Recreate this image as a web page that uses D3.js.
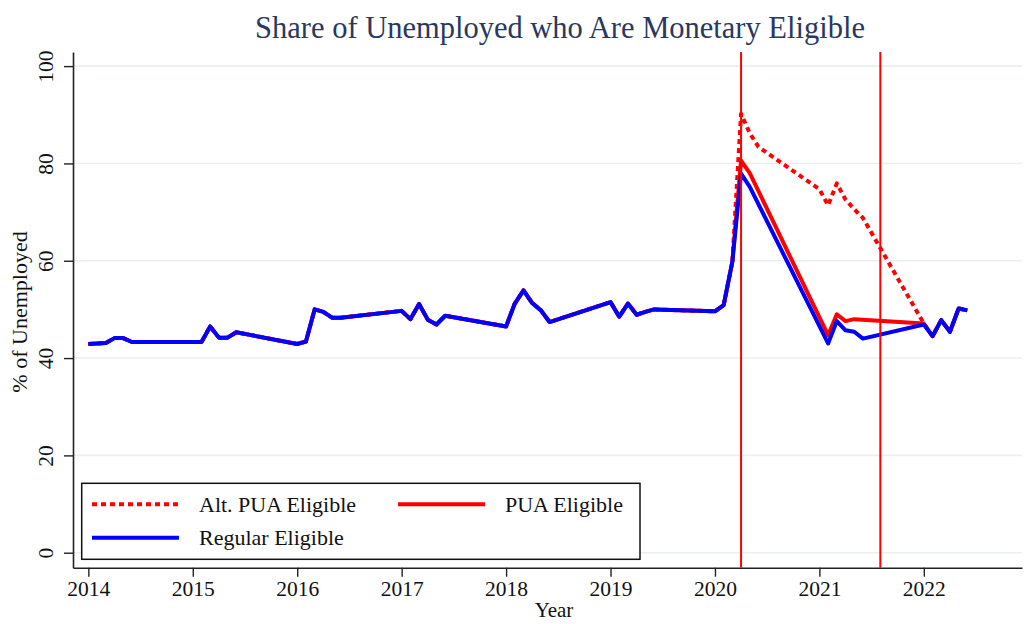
<!DOCTYPE html>
<html>
<head>
<meta charset="utf-8">
<script src="https://cdn.jsdelivr.net/npm/d3@7"></script>
<style>
  html, body { margin: 0; padding: 0; background: #fff; }
  svg { display: block; }
  text { font-family: "Liberation Serif", "DejaVu Serif", serif; fill: #111; }
</style>
</head>
<body>
<svg id="chart" width="1024" height="624"></svg>
<script>
// Monthly observations (YYYY-MM); null = no value for that series
const months = [
  "2014-01","2014-02","2014-03","2014-04","2014-05","2014-06",
  "2015-02","2015-03","2015-04","2015-05","2015-06",
  "2016-01","2016-02","2016-03","2016-04","2016-05","2016-06",
  "2017-01","2017-02","2017-03","2017-04","2017-05","2017-06",
  "2018-01","2018-02","2018-03","2018-04","2018-05","2018-06",
  "2019-01","2019-02","2019-03","2019-04","2019-05","2019-06",
  "2020-01","2020-02","2020-03","2020-04","2020-05","2020-06",
  "2021-01","2021-02","2021-03","2021-04","2021-05","2021-06",
  "2022-01","2022-02","2022-03","2022-04","2022-05","2022-06"
];

const regularEligible = [
  42.9,43.0,43.1,44.1,44.1,43.3,
  43.3,46.5,44.2,44.2,45.3,
  42.9,43.4,50.0,49.5,48.3,48.3,
  49.7,48.0,51.1,47.9,46.9,48.7,
  46.5,51.2,53.9,51.3,49.8,47.4,
  51.5,48.5,51.2,48.9,49.5,50.0,
  49.6,50.9,59.8,77.9,75.2,null,
  null,43.0,47.6,45.7,45.4,44.0,
  46.9,44.5,47.8,45.4,50.2,49.8
];

const puaEligible = [
  42.9,43.0,43.1,44.1,44.1,43.3,
  43.3,46.5,44.2,44.2,45.3,
  42.9,43.4,50.0,49.5,48.3,48.3,
  49.7,48.0,51.1,47.9,46.9,48.7,
  46.5,51.2,53.9,51.3,49.8,47.4,
  51.5,48.5,51.2,48.9,49.5,50.0,
  49.6,50.9,59.8,80.6,78.0,null,
  null,44.7,49.0,47.6,48.0,null,
  47.1,44.5,47.8,45.4,50.2,49.8
];

const altPuaEligible = [
  42.9,43.0,43.1,44.1,44.1,43.3,
  43.3,46.5,44.2,44.2,45.3,
  42.9,43.4,50.0,49.5,48.3,48.3,
  49.7,48.0,51.1,47.9,46.9,48.7,
  46.5,51.2,53.9,51.3,49.8,47.4,
  51.5,48.5,51.2,48.9,49.5,50.0,
  49.6,50.9,59.8,90.2,86.2,83.4,
  74.7,71.4,75.9,72.6,70.6,68.8,
  47.1,44.5,47.8,45.4,50.2,49.8
];

const xTicks = [2014, 2015, 2016, 2017, 2018, 2019, 2020, 2021, 2022];
const yTicks = [0, 20, 40, 60, 80, 100];
// Policy markers: April 2020 and August 2021
const eventMonths = ["2020-04", "2021-08"];

const toYear = m => { const [yr, mo] = m.split("-").map(Number); return yr + (mo - 1) / 12; };

const svg = d3.select("#chart");
const plotLeft = 73, plotRight = 1022, plotTop = 52, plotBottom = 567.7;
const labelSize = 21.5;

const x = d3.scaleLinear().domain([2013.853, 2022.94]).range([plotLeft, plotRight]);
const y = d3.scaleLinear().domain([-3.08, 102.9]).range([plotBottom, plotTop]);

// Horizontal grid
svg.append("g").selectAll("line").data(yTicks).join("line")
  .attr("x1", plotLeft).attr("x2", plotRight)
  .attr("y1", d => y(d)).attr("y2", d => y(d))
  .attr("stroke", "#e8f0f2").attr("stroke-width", 1.6);

// Axes
const xAxis = svg.append("g").attr("transform", `translate(0,${plotBottom})`)
  .call(d3.axisBottom(x).tickValues(xTicks).tickFormat(d3.format("d")).tickSize(9).tickPadding(4).tickSizeOuter(0));
xAxis.select(".domain").attr("stroke", "#222").attr("stroke-width", 1.6);
xAxis.selectAll(".tick line").attr("stroke", "#222").attr("stroke-width", 1.4);
xAxis.selectAll(".tick text").attr("font-size", labelSize).attr("font-family", "Liberation Serif").attr("fill", "#111");

const yAxis = svg.append("g").attr("transform", `translate(${plotLeft},0)`)
  .call(d3.axisLeft(y).tickValues(yTicks).tickSize(9).tickSizeOuter(0).tickFormat(d3.format("d")));
yAxis.select(".domain").attr("stroke", "#222").attr("stroke-width", 1.6);
yAxis.selectAll(".tick line").attr("stroke", "#222").attr("stroke-width", 1.4);
yAxis.selectAll(".tick text")
  .attr("font-size", labelSize).attr("font-family", "Liberation Serif").attr("fill", "#111")
  .attr("x", null).attr("dy", null)
  .attr("text-anchor", "middle")
  .attr("transform", "translate(-20,0) rotate(-90)");

// Series lines
const line = d3.line().x(d => x(d.t)).y(d => y(d.v));
const seriesPoints = vals => months.map((m, i) => ({ t: toYear(m), v: vals[i] })).filter(d => d.v !== null);

svg.append("path").datum(seriesPoints(altPuaEligible))
  .attr("d", line).attr("fill", "none").attr("stroke", "#ff0000")
  .attr("stroke-width", 4).attr("stroke-dasharray", "5,4").attr("stroke-linejoin", "round");
svg.append("path").datum(seriesPoints(puaEligible))
  .attr("d", line).attr("fill", "none").attr("stroke", "#ff0000")
  .attr("stroke-width", 4).attr("stroke-linejoin", "round");
svg.append("path").datum(seriesPoints(regularEligible))
  .attr("d", line).attr("fill", "none").attr("stroke", "#0000ff")
  .attr("stroke-width", 4).attr("stroke-linejoin", "round");

// Event lines
svg.append("g").selectAll("line").data(eventMonths).join("line")
  .attr("x1", d => x(toYear(d))).attr("x2", d => x(toYear(d)))
  .attr("y1", plotTop).attr("y2", plotBottom)
  .attr("stroke", "#ff0000").attr("stroke-width", 2);

// Title and axis titles
svg.append("text").attr("x", 560).attr("y", 38).attr("text-anchor", "middle")
  .attr("font-size", 30.5).style("fill", "#2a3860")
  .text("Share of Unemployed who Are Monetary Eligible");
svg.append("text").attr("x", 554).attr("y", 617).attr("text-anchor", "middle")
  .attr("font-size", 21).text("Year");
svg.append("text").attr("transform", "translate(27,312) rotate(-90)").attr("text-anchor", "middle")
  .attr("font-size", 22).text("% of Unemployed");

// Legend
const legend = svg.append("g");
legend.append("rect").attr("x", 81.7).attr("y", 483.3).attr("width", 558.3).attr("height", 76)
  .attr("fill", "#fff").attr("stroke", "#111").attr("stroke-width", 1.5);
const legendItems = [
  { label: "Alt. PUA Eligible", color: "#ff0000", dash: "5,4", lx: 92, ly: 504.3 },
  { label: "PUA Eligible", color: "#ff0000", dash: null, lx: 398, ly: 504.3 },
  { label: "Regular Eligible", color: "#0000ff", dash: null, lx: 92, ly: 537.7 }
];
legendItems.forEach(it => {
  legend.append("line").attr("x1", it.lx).attr("x2", it.lx + 87).attr("y1", it.ly).attr("y2", it.ly)
    .attr("stroke", it.color).attr("stroke-width", 4).attr("stroke-dasharray", it.dash);
  legend.append("text").attr("x", it.lx + 107).attr("y", it.ly + 7.5).attr("font-size", 22).text(it.label);
});
</script>
</body>
</html>
